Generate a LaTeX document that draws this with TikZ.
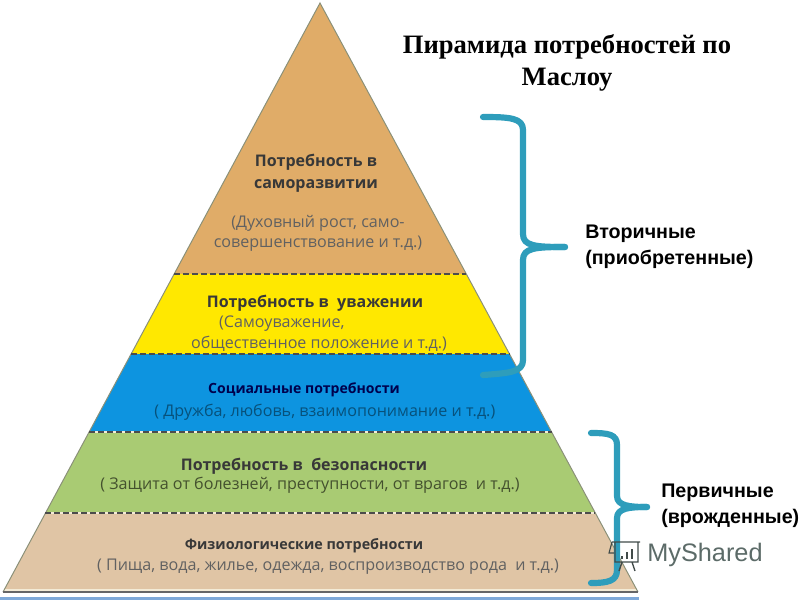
\documentclass[tikz,border=0pt]{standalone}
\usepackage{fontspec}
\setmainfont{Liberation Serif}
\setsansfont{Liberation Sans}
\newfontfamily\bandfont{Open Sans}
\usetikzlibrary{positioning,calc}
\definecolor{selfcol}{HTML}{E0AC68}
\definecolor{esteemcol}{HTML}{FFE800}
\definecolor{socialcol}{HTML}{0D94E0}
\definecolor{safetycol}{HTML}{A9CB73}
\definecolor{bodycol}{HTML}{E0C5A5}
\definecolor{creamcol}{HTML}{F3EBD6}
\definecolor{stripcol}{HTML}{7FA9D8}
\definecolor{bracecol}{HTML}{2E9DBB}
\definecolor{edgecol}{HTML}{8A9078}
\definecolor{markcol}{HTML}{5C6B68}
\tikzset{
  bandhead/.style={font=\bandfont\fontsize{11.4pt}{15.5pt}\selectfont\bfseries, text=black!78, align=center, inner sep=0pt},
  bandnote/.style={font=\bandfont\fontsize{11.45pt}{14.8pt}\selectfont, text=black!62, align=center, inner sep=0pt},
  sidelabel/.style={font=\sffamily\bfseries\fontsize{14pt}{18.8pt}\selectfont, align=left, inner sep=0pt},
  bandline/.style={dash pattern=on 4.2pt off 2.2pt, line width=1.5pt, black!70},
  bandunder/.style={line width=1.5pt, creamcol},
  bracket/.style={bracecol, line width=4.4pt, line cap=round, line join=round}
}
\begin{document}
\begin{tikzpicture}[x=0.025cm,y=-0.025cm]
    \useasboundingbox (0,0) rectangle (800,600);
    \coordinate (apex) at (320,3);
    \coordinate (bl) at (3,592);
    \coordinate (br) at (638,592);
    % band corners
    \coordinate (l1) at ($(apex)!0.46!(bl)$);
    \coordinate (r1) at ($(apex)!0.46!(br)$);
    \coordinate (l2) at ($(apex)!0.596!(bl)$);
    \coordinate (r2) at ($(apex)!0.596!(br)$);
    \coordinate (l3) at ($(apex)!0.728!(bl)$);
    \coordinate (r3) at ($(apex)!0.728!(br)$);
    \coordinate (l4) at ($(apex)!0.866!(bl)$);
    \coordinate (r4) at ($(apex)!0.866!(br)$);
    \coordinate (l5) at ($(apex)!0.995!(bl)$);
    \coordinate (r5) at ($(apex)!0.995!(br)$);
    %
    \fill[selfcol] (apex) -- (r1) -- (l1) -- cycle;
    \fill[esteemcol] (l1) -- (r1) -- (r2) -- (l2) -- cycle;
    \fill[socialcol] (l2) -- (r2) -- (r3) -- (l3) -- cycle;
    \fill[safetycol] (l3) -- (r3) -- (r4) -- (l4) -- cycle;
    \fill[bodycol] (l4) -- (r4) -- (r5) -- (l5) -- cycle;
    \fill[creamcol] (l5) -- (r5) -- (br) -- (bl) -- cycle;
    \draw[edgecol, line width=0.7pt] (bl) -- (apex) -- (br);
    %
    \draw[bandunder] (l3) -- (r3);
    \draw[bandunder] (l4) -- (r4);
    \draw[bandline] (l1) -- (r1);
    \draw[bandline] (l2) -- (r2);
    \draw[bandline] (l3) -- (r3);
    \draw[bandline] (l4) -- (r4);
    % base strip
    \draw[black!60, line width=1.2pt] (bl) -- (br);
    \fill[stripcol] (0,596.5) rectangle (639,600);
    %
    \node[bandhead] (self) at (316,173) {Потребность в\\саморазвитии};
    \node[bandnote, below = 0.56cm of self, xshift=0.05cm] (selfnote) {(Духовный рост, само-\\совершенствование и т.д.)};
    \node[bandhead] (esteem) at (315,303) {Потребность в\ \ уважении};
    \node[bandnote, below = 0.1cm of esteem, xshift=0.1cm, align=left] (esteemnote) {\hspace*{0.7cm}(Самоуважение,\\общественное положение и т.д.)};
    \node[bandhead, font=\bandfont\fontsize{10pt}{13pt}\selectfont\bfseries, text=black!70!blue] (social) at (304,390) {Социальные потребности};
    \node[bandnote, below = 0.16cm of social, xshift=0.52cm, text=black!45!socialcol] (socialnote) {( Дружба, любовь, взаимопонимание и т.д.)};
    \node[bandhead] (safety) at (304,466) {Потребность в\ \ безопасности};
    \node[bandnote, below = 0.07cm of safety, xshift=0.15cm, text=black!60!safetycol] (safetynote) {( Защита от болезней, преступности, от врагов\ \ и т.д.)};
    \node[bandhead, font=\bandfont\fontsize{10.2pt}{13pt}\selectfont\bfseries] (body) at (304,546) {Физиологические потребности};
    \node[bandnote, below = 0.12cm of body, xshift=0.6cm] (bodynote) {( Пища, вода, жилье, одежда, воспроизводство рода\ \ и т.д.)};
    %
    \node[font=\bfseries\fontsize{18.9pt}{22.7pt}\selectfont, align=center, inner sep=0pt] (title) at (567,63) {Пирамида потребностей по\\Маслоу};
    \node[sidelabel, anchor=west] (second) at (585,247) {Вторичные\\(приобретенные)};
    \node[sidelabel, anchor=west] (first) at (661,506) {Первичные\\(врожденные)};
    % brackets
    \coordinate (atop) at (483,117);
    \coordinate (atip) at (565,247);
    \coordinate (abot) at (483,375);
    \coordinate (btop) at (591,433);
    \coordinate (btip) at (647,507);
    \coordinate (bbot) at (591,583);
    \draw[bracket] (atop) .. controls (510,117) and (523,118) .. (523,130) -- (523,234) .. controls (523,246) and (535,247) .. (atip);
    \draw[bracket] (atip) .. controls (535,247) and (523,248) .. (523,260) -- (523,360) .. controls (523,372) and (510,373) .. (abot);
    \draw[bracket] (btop) .. controls (608,433) and (617,434) .. (617,445) -- (617,496) .. controls (617,506) and (630,507) .. (btip);
    \draw[bracket] (btip) .. controls (630,507) and (617,508) .. (617,518) -- (617,570) .. controls (617,581) and (608,583) .. (bbot);
    % watermark
    \node[font=\sffamily\fontsize{18pt}{22pt}\selectfont, text=markcol, inner sep=0pt, anchor=west] (mark) at (647,555) {MyShared};
    \draw[markcol!70!black, line width=1pt] (612,542) -- (640,542) (615,542) rectangle (638,562) (622,562) -- (619,571) (632,562) -- (635,571);
    \draw[markcol!70!black, line width=1.4pt] (622,559) -- (622,556) (627,559) -- (627,552) (632,559) -- (632,549);
    \draw[markcol!70!black, line width=0.8pt] (612,542) -- (609,553) -- (614,553);
\end{tikzpicture}
\end{document}
